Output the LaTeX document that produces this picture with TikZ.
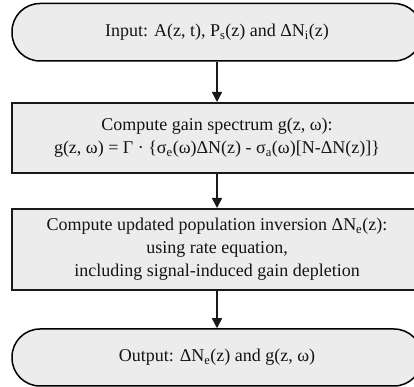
\documentclass[tikz,border=0pt]{standalone}
\usepackage{fontspec}
\setmainfont{Liberation Serif}
\usetikzlibrary{arrows.meta}
\definecolor{boxfill}{HTML}{ECECEC}
\definecolor{txt}{HTML}{141414}
\tikzset{
  term/.style={draw=black, line width=1.5pt, fill=boxfill, rounded corners=28pt,
    minimum width=410pt, inner sep=0pt, text=txt, align=center,
    font=\fontsize{18}{23}\selectfont},
  procbox/.style={draw=black!90, line width=2pt, fill=boxfill,
    minimum width=410pt, inner sep=0pt, text=txt, align=center,
    font=\fontsize{18}{23}\selectfont},
  flow/.style={draw=black!90, line width=1.5pt, -{Triangle[width=10pt,length=10pt]}}
}
\begin{document}
\begin{tikzpicture}[x=1pt,y=1pt]
\useasboundingbox (0,0) rectangle (414,387);
\clip (0,0) rectangle (414,387);
\fill[white] (0,0) rectangle (414,387);
\node[term, minimum height=57.5pt] (in) at (217,354.75)
  {Input: A(z, t), P\textsubscript{s}(z) and ΔN\textsubscript{i}(z)};
\node[procbox, minimum height=70pt] (gain) at (217,249)
  {Compute gain spectrum g(z, ω):\\
   g(z, ω) = Γ · \{σ\textsubscript{e}(ω)ΔN(z) - σ\textsubscript{a}(ω)[N-ΔN(z)]\}};
\node[procbox, minimum height=81pt] (pop) at (217,137.5)
  {Compute updated population inversion ΔN\textsubscript{e}(z):\\
   using rate equation,\\
   including signal-induced gain depletion};
\node[term, minimum height=57pt] (out) at (217,29.5)
  {Output: ΔN\textsubscript{e}(z) and g(z, ω)};
\draw[flow] (in) -- (gain);
\draw[flow] (gain) -- (pop);
\draw[flow] (pop) -- (out);
\end{tikzpicture}
\end{document}
